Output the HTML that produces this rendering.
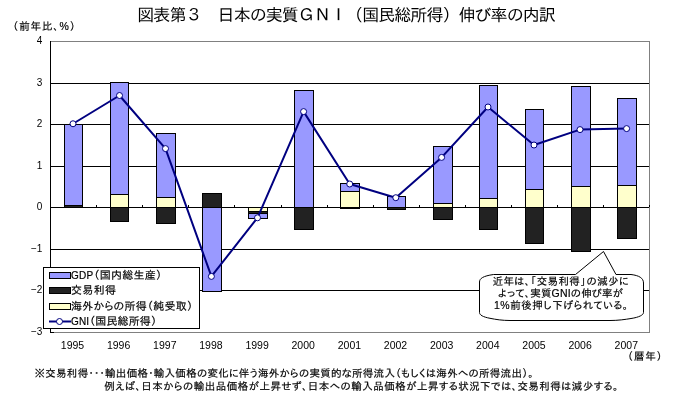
<!DOCTYPE html>
<html lang="ja"><head><meta charset="utf-8"><title>図表第３ 日本の実質ＧＮＩ（国民総所得）伸び率の内訳</title>
<style>html,body{margin:0;padding:0;background:#fff;}svg{display:block;}text{font-family:"Liberation Sans", "IPAPGothic", "IPAGothic", sans-serif;fill:#000;stroke:#000;stroke-width:0.18px;}text.t{stroke:none;}text.ttl{font-family:"Liberation Sans", "IPAGothic", sans-serif;}</style>
</head><body>
<svg width="680" height="400" viewBox="0 0 680 400">
<rect x="0" y="0" width="680" height="400" fill="#ffffff"/>
<text class="t ttl" x="137.3" y="20.8" font-size="17" textLength="418.5" lengthAdjust="spacing">図表第３　日本の実質ＧＮＩ（国民総所得）伸び率の内訳</text>
<text x="12.5" y="29.8" font-size="10.5" textLength="63" lengthAdjust="spacing">（前年比、%）</text>
<g shape-rendering="crispEdges" stroke="#000" stroke-width="1" fill="none">
<line x1="50" y1="83.5" x2="650" y2="83.5"/>
<line x1="50" y1="124.5" x2="650" y2="124.5"/>
<line x1="50" y1="166.5" x2="650" y2="166.5"/>
<line x1="50" y1="207.5" x2="650" y2="207.5"/>
<line x1="50" y1="249.5" x2="650" y2="249.5"/>
<line x1="50" y1="290.5" x2="650" y2="290.5"/>
</g>
<rect x="50.5" y="41.5" width="599" height="291" fill="none" stroke="#808080" stroke-width="1" shape-rendering="crispEdges"/>
<g shape-rendering="crispEdges" stroke="#000" stroke-width="1">
<line x1="50.5" y1="41" x2="50.5" y2="333"/>
<line x1="50" y1="332.5" x2="54" y2="332.5"/>
<line x1="96.5" y1="205" x2="96.5" y2="207"/>
<line x1="142.5" y1="205" x2="142.5" y2="207"/>
<line x1="188.5" y1="205" x2="188.5" y2="207"/>
<line x1="234.5" y1="205" x2="234.5" y2="207"/>
<line x1="281.5" y1="205" x2="281.5" y2="207"/>
<line x1="327.5" y1="205" x2="327.5" y2="207"/>
<line x1="373.5" y1="205" x2="373.5" y2="207"/>
<line x1="419.5" y1="205" x2="419.5" y2="207"/>
<line x1="465.5" y1="205" x2="465.5" y2="207"/>
<line x1="511.5" y1="205" x2="511.5" y2="207"/>
<line x1="557.5" y1="205" x2="557.5" y2="207"/>
<line x1="603.5" y1="205" x2="603.5" y2="207"/>
<line x1="649.5" y1="205" x2="649.5" y2="207"/>
</g>
<g shape-rendering="crispEdges" stroke="#000" stroke-width="1">
<rect x="64.5" y="124.5" width="18" height="81" fill="#9999ff"/>
<rect x="64.5" y="205.5" width="18" height="2" fill="#222222"/>
<rect x="110.5" y="82.5" width="18" height="112" fill="#9999ff"/>
<rect x="110.5" y="194.5" width="18" height="13" fill="#ffffcc"/>
<rect x="110.5" y="207.5" width="18" height="14" fill="#222222"/>
<rect x="156.5" y="133.5" width="19" height="64" fill="#9999ff"/>
<rect x="156.5" y="197.5" width="19" height="10" fill="#ffffcc"/>
<rect x="156.5" y="207.5" width="19" height="16" fill="#222222"/>
<rect x="202.5" y="193.5" width="19" height="14" fill="#222222"/>
<rect x="202.5" y="207.5" width="19" height="84" fill="#9999ff"/>
<rect x="248.5" y="207.5" width="19" height="4" fill="#ffffcc"/>
<rect x="248.5" y="211.5" width="19" height="2" fill="#222222"/>
<rect x="248.5" y="213.5" width="19" height="5" fill="#9999ff"/>
<rect x="294.5" y="90.5" width="19" height="117" fill="#9999ff"/>
<rect x="294.5" y="207.5" width="19" height="22" fill="#222222"/>
<rect x="340.5" y="183.5" width="19" height="8" fill="#9999ff"/>
<rect x="340.5" y="191.5" width="19" height="16" fill="#ffffcc"/>
<rect x="340.5" y="207.5" width="19" height="1" fill="#222222"/>
<rect x="387.5" y="196.5" width="18" height="11" fill="#9999ff"/>
<rect x="387.5" y="207.5" width="18" height="2" fill="#222222"/>
<rect x="433.5" y="146.5" width="19" height="57" fill="#9999ff"/>
<rect x="433.5" y="203.5" width="19" height="4" fill="#ffffcc"/>
<rect x="433.5" y="207.5" width="19" height="12" fill="#222222"/>
<rect x="479.5" y="85.5" width="18" height="113" fill="#9999ff"/>
<rect x="479.5" y="198.5" width="18" height="9" fill="#ffffcc"/>
<rect x="479.5" y="207.5" width="18" height="22" fill="#222222"/>
<rect x="525.5" y="109.5" width="18" height="80" fill="#9999ff"/>
<rect x="525.5" y="189.5" width="18" height="18" fill="#ffffcc"/>
<rect x="525.5" y="207.5" width="18" height="36" fill="#222222"/>
<rect x="571.5" y="86.5" width="19" height="100" fill="#9999ff"/>
<rect x="571.5" y="186.5" width="19" height="21" fill="#ffffcc"/>
<rect x="571.5" y="207.5" width="19" height="44" fill="#222222"/>
<rect x="617.5" y="98.5" width="19" height="87" fill="#9999ff"/>
<rect x="617.5" y="185.5" width="19" height="22" fill="#ffffcc"/>
<rect x="617.5" y="207.5" width="19" height="31" fill="#222222"/>
</g>
<polyline fill="none" stroke="#000080" stroke-width="2" stroke-linejoin="round" points="73,123.75 119.5,95.5 165.5,148.6 211.4,276.4 257.5,217.8 303.6,111.6 349.7,184 395.8,197.7 441.6,157.4 488,107 534,145 580,129.6 626.6,128.6"/>
<circle cx="73" cy="123.75" r="3" fill="#fff" stroke="#000080" stroke-width="1"/>
<circle cx="119.5" cy="95.5" r="3" fill="#fff" stroke="#000080" stroke-width="1"/>
<circle cx="165.5" cy="148.6" r="3" fill="#fff" stroke="#000080" stroke-width="1"/>
<circle cx="211.4" cy="276.4" r="3" fill="#fff" stroke="#000080" stroke-width="1"/>
<circle cx="257.5" cy="217.8" r="3" fill="#fff" stroke="#000080" stroke-width="1"/>
<circle cx="303.6" cy="111.6" r="3" fill="#fff" stroke="#000080" stroke-width="1"/>
<circle cx="349.7" cy="184" r="3" fill="#fff" stroke="#000080" stroke-width="1"/>
<circle cx="395.8" cy="197.7" r="3" fill="#fff" stroke="#000080" stroke-width="1"/>
<circle cx="441.6" cy="157.4" r="3" fill="#fff" stroke="#000080" stroke-width="1"/>
<circle cx="488" cy="107" r="3" fill="#fff" stroke="#000080" stroke-width="1"/>
<circle cx="534" cy="145" r="3" fill="#fff" stroke="#000080" stroke-width="1"/>
<circle cx="580" cy="129.6" r="3" fill="#fff" stroke="#000080" stroke-width="1"/>
<circle cx="626.6" cy="128.6" r="3" fill="#fff" stroke="#000080" stroke-width="1"/>
<rect x="43.5" y="267.5" width="156" height="61" fill="#fff" stroke="#000" stroke-width="1" shape-rendering="crispEdges"/>
<g shape-rendering="crispEdges" stroke="#000" stroke-width="1">
<rect x="49.5" y="272.5" width="21" height="6" fill="#9999ff"/>
<rect x="49.5" y="287.5" width="21" height="6" fill="#222222"/>
<rect x="49.5" y="303.5" width="21" height="6" fill="#ffffcc"/>
</g>
<line x1="49" y1="321.5" x2="71" y2="321.5" stroke="#000080" stroke-width="2"/>
<circle cx="59.5" cy="321.5" r="3" fill="#fff" stroke="#000080" stroke-width="1"/>
<text x="71" y="279" font-size="11" textLength="91" lengthAdjust="spacing"><tspan font-size="10">GDP</tspan>（国内総生産）</text>
<text x="71" y="294" font-size="11" textLength="45" lengthAdjust="spacing">交易利得</text>
<text x="71" y="309.7" font-size="11" textLength="122" lengthAdjust="spacing">海外からの所得（純受取）</text>
<text x="71" y="325" font-size="11" textLength="86" lengthAdjust="spacing"><tspan font-size="10">GNI</tspan>（国民総所得）</text>
<text x="42.3" y="43.5" class="t" font-size="10" text-anchor="end">4</text>
<text x="42.3" y="85.5" class="t" font-size="10" text-anchor="end">3</text>
<text x="42.3" y="126.5" class="t" font-size="10" text-anchor="end">2</text>
<text x="42.3" y="168.5" class="t" font-size="10" text-anchor="end">1</text>
<text x="42.3" y="209.5" class="t" font-size="10" text-anchor="end">0</text>
<text x="42.3" y="251.5" class="t" font-size="10" text-anchor="end">−1</text>
<text x="42.3" y="292.5" class="t" font-size="10" text-anchor="end">−2</text>
<text x="42.3" y="334.5" class="t" font-size="10" text-anchor="end">−3</text>
<text x="72.5" y="348.5" class="t" font-size="10.5" text-anchor="middle">1995</text>
<text x="118.6" y="348.5" class="t" font-size="10.5" text-anchor="middle">1996</text>
<text x="164.8" y="348.5" class="t" font-size="10.5" text-anchor="middle">1997</text>
<text x="210.9" y="348.5" class="t" font-size="10.5" text-anchor="middle">1998</text>
<text x="257.1" y="348.5" class="t" font-size="10.5" text-anchor="middle">1999</text>
<text x="303.2" y="348.5" class="t" font-size="10.5" text-anchor="middle">2000</text>
<text x="349.4" y="348.5" class="t" font-size="10.5" text-anchor="middle">2001</text>
<text x="395.5" y="348.5" class="t" font-size="10.5" text-anchor="middle">2002</text>
<text x="441.7" y="348.5" class="t" font-size="10.5" text-anchor="middle">2003</text>
<text x="487.8" y="348.5" class="t" font-size="10.5" text-anchor="middle">2004</text>
<text x="534.0" y="348.5" class="t" font-size="10.5" text-anchor="middle">2005</text>
<text x="580.1" y="348.5" class="t" font-size="10.5" text-anchor="middle">2006</text>
<text x="626.3" y="348.5" class="t" font-size="10.5" text-anchor="middle">2007</text>
<text x="627.3" y="360.3" font-size="10.5" textLength="35" lengthAdjust="spacing">（暦年）</text>
<path d="M479.5 282 C479.5 278.5 483 276 493.5 274.5 L575.5 274.5 L603.5 251.5 L616 274.5 L631 274.5 C639 275.5 643.5 278 643.5 283 L643.5 312.5 C643.5 315 639 317.3 631 318.5 C625 319.5 618 320.5 610 320.5 L510 320.5 C502 320.5 496 319.5 490 318.3 C483 317 479.5 315 479.5 312.5 Z" fill="#fff" stroke="#000" stroke-width="1"/>
<text x="492.5" y="285" font-size="10.5" textLength="136" lengthAdjust="spacing">近年は、「交易利得」の減少に</text>
<text x="498" y="296.5" font-size="10.5" textLength="125" lengthAdjust="spacing">よって、実質GNIの伸び率が</text>
<text x="494" y="308.6" font-size="10.5" textLength="134" lengthAdjust="spacing">1%前後押し下げられている。</text>
<text x="34.5" y="377" font-size="10.5" textLength="499" lengthAdjust="spacing">※交易利得･･･輸出価格・輸入価格の変化に伴う海外からの実質的な所得流入（もしくは海外への所得流出）。</text>
<text x="104.2" y="390" font-size="10.5" textLength="514" lengthAdjust="spacing">例えば、日本からの輸出品価格が上昇せず、日本への輸入品価格が上昇する状況下では、交易利得は減少する。</text>
</svg>
</body></html>
